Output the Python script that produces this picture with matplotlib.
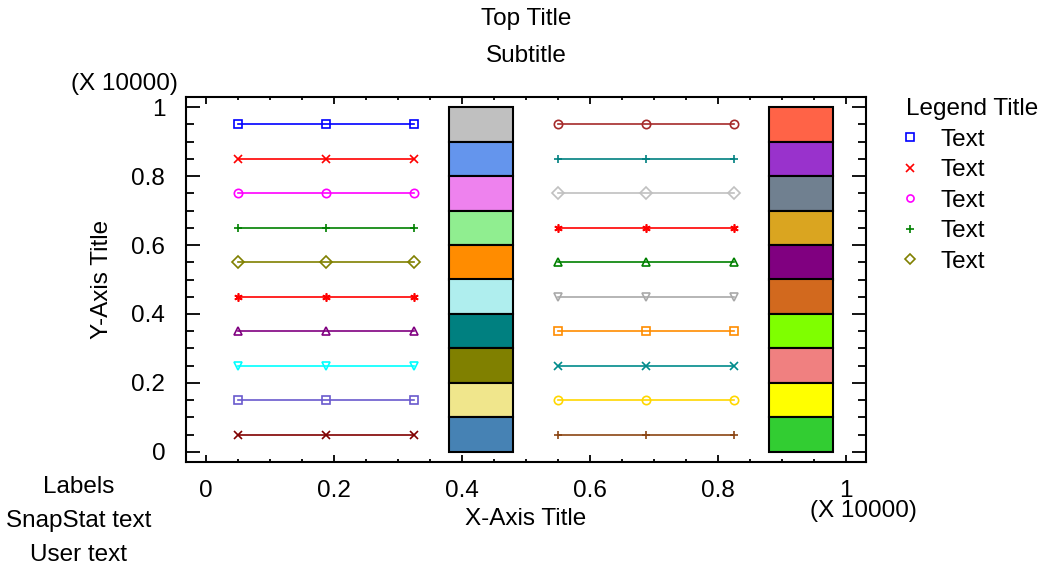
import matplotlib
matplotlib.use("Agg")
import matplotlib.pyplot as plt
from matplotlib.ticker import MultipleLocator

plt.rcParams['font.family'] = ['Liberation Sans', 'DejaVu Sans']

# ---- data (units of 10000) ----
left_x = [0.05, 0.1875, 0.325]
right_x = [0.55, 0.6875, 0.825]
levels = [0.95, 0.85, 0.75, 0.65, 0.55, 0.45, 0.35, 0.25, 0.15, 0.05]
left_colors = ['#0000FF', '#FF0000', '#FF00FF', '#008000', '#808000',
               '#FF0000', '#800080', '#00FFFF', '#6A5ACD', '#800000']
left_markers = ['s', 'x', 'o', '+', 'D', (6, 2, 0), '^', 'v', 's', 'x']
right_colors = ['#A52A2A', '#008080', '#C0C0C0', '#FF0000', '#008000',
                '#A9A9A9', '#FF8C00', '#008B8B', '#FFD700', '#8B4513']
right_markers = ['o', '+', 'D', (6, 2, 0), '^', 'v', 's', 'x', 'o', '+']
legend_labels = ['Text', 'Text', 'Text', 'Text', 'Text']

bar_left_x = 0.38
bar_right_x = 0.88
bar_width = 0.10
seg_bottoms = [0.9, 0.8, 0.7, 0.6, 0.5, 0.4, 0.3, 0.2, 0.1, 0.0]
seg_height = 0.1
bar_left_colors = ['#C0C0C0', '#6495ED', '#EE82EE', '#90EE90', '#FF8C00',
                   '#AFEEEE', '#008080', '#808000', '#F0E68C', '#4682B4']
bar_right_colors = ['#FF6347', '#9932CC', '#708090', '#DAA520', '#800080',
                    '#D2691E', '#7FFF00', '#F08080', '#FFFF00', '#32CD32']

FS = 17.5
fig = plt.figure(figsize=(10.43, 5.69), dpi=100)
W, H = 1043, 569
ax = fig.add_axes([186 / W, 1 - 462 / H, (866 - 186) / W, (462 - 97) / H])

handles = []
for y, c, m in zip(levels, left_colors, left_markers):
    h, = ax.plot(left_x, [y] * len(left_x), color=c, marker=m, lw=1.2,
                 markersize=6, markerfacecolor='none', markeredgecolor=c,
                 markeredgewidth=1.2)
    handles.append(h)
for y, c, m in zip(levels, right_colors, right_markers):
    ax.plot(right_x, [y] * len(right_x), color=c, marker=m, lw=1.2,
            markersize=6, markerfacecolor='none', markeredgecolor=c,
            markeredgewidth=1.2)

ax.bar([bar_left_x] * len(seg_bottoms), [seg_height] * len(seg_bottoms),
       width=bar_width, bottom=seg_bottoms, align='edge',
       color=bar_left_colors, edgecolor='black', linewidth=1.5)
ax.bar([bar_right_x] * len(seg_bottoms), [seg_height] * len(seg_bottoms),
       width=bar_width, bottom=seg_bottoms, align='edge',
       color=bar_right_colors, edgecolor='black', linewidth=1.5)

ax.set_xlim(-0.03125, 1.03125)
ax.set_ylim(-0.029, 1.029)
ax.xaxis.set_major_locator(MultipleLocator(0.2))
ax.yaxis.set_major_locator(MultipleLocator(0.2))
ax.xaxis.set_minor_locator(MultipleLocator(0.05))
ax.yaxis.set_minor_locator(MultipleLocator(0.05))
ax.xaxis.set_major_formatter(lambda v, p: f"{v:g}")
ax.yaxis.set_major_formatter(lambda v, p: f"{v:g}")
ax.tick_params(which='both', direction='in', top=True, right=True,
               width=1.3, labelsize=FS)
ax.tick_params(axis='x', which='major', length=5, pad=13)
ax.tick_params(axis='x', which='minor', length=2.5)
ax.tick_params(axis='y', which='major', length=10, pad=15)
ax.tick_params(axis='y', which='minor', length=6)
for s in ax.spines.values():
    s.set_linewidth(1.5)

ax.set_xlabel('X-Axis Title', fontsize=FS, labelpad=4)
ax.set_ylabel('Y-Axis Title', fontsize=FS, labelpad=13)

fig.text(526 / W, 1 - 19 / H, 'Top Title', ha='center', va='center', fontsize=FS)
fig.text(526 / W, 1 - 56 / H, 'Subtitle', ha='center', va='center', fontsize=FS)
fig.text(124 / W, 1 - 84 / H, '(X 10000)', ha='center', va='center', fontsize=FS)
fig.text(863 / W, 1 - 511 / H, '(X 10000)', ha='center', va='center', fontsize=FS)
fig.text(79 / W, 1 - 487 / H, 'Labels', ha='center', va='center', fontsize=FS)
fig.text(79 / W, 1 - 521 / H, 'SnapStat text', ha='center', va='center', fontsize=FS)
fig.text(79 / W, 1 - 555 / H, 'User text', ha='center', va='center', fontsize=FS)

leg = fig.legend(handles[:5], legend_labels, title='Legend Title',
                 loc='upper left', bbox_to_anchor=(906 / W, 1 - 98 / H),
                 frameon=False, fontsize=FS, title_fontsize=FS,
                 handlelength=0.3, handletextpad=1.1, labelspacing=0.35,
                 borderpad=0, borderaxespad=0, markerscale=0.85)
leg._legend_box.align = 'left'
for lh in leg.legend_handles:
    lh.set_linestyle('None')

fig.savefig('out.png', dpi=100)
